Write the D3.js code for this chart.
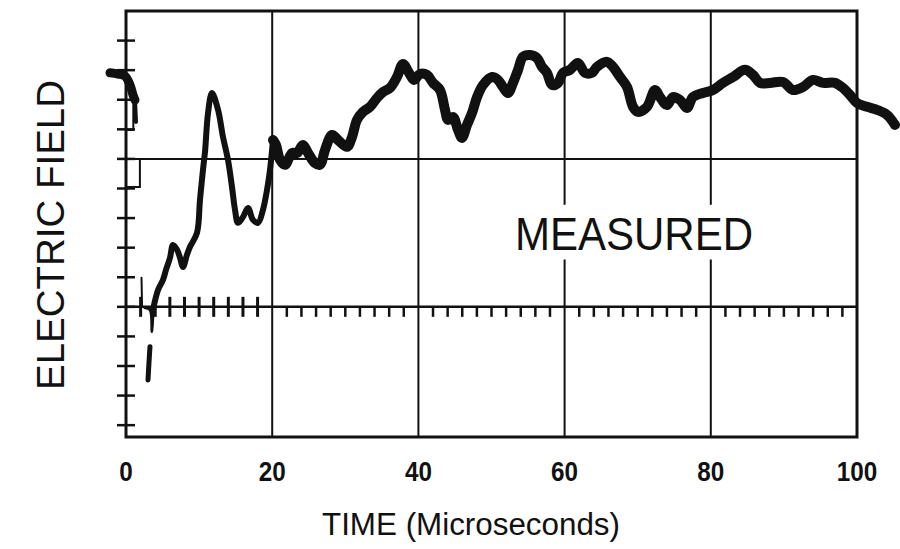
<!DOCTYPE html>
<html><head><meta charset="utf-8">
<script src="https://cdn.jsdelivr.net/npm/d3@7"></script>
<style>html,body{margin:0;padding:0;background:#fff;} svg{display:block}</style>
</head><body><svg id="c" width="900" height="549"></svg>
<script>
// ---- data ----
const xTickLabels = [0, 20, 40, 60, 80, 100];
const yMinorTicks = [-4, -3, -2, -1, 0, 1, 2, 3, 4, 5, 6, 7, 8, 9];
const zeroLineTicks = d3.range(2, 100, 2).filter(t => t % 20 !== 0);
const gridX = [20, 40, 60, 80];
const gridY = [0, 5];
const xTitle = "TIME (Microseconds)";
const yTitle = "ELECTRIC FIELD";
const annotation = "MEASURED";

// initial record before the step (time µs, field units)
const traceStart = [[-2.19,7.91],[-1.09,7.87],[-0.14,7.80],[0.55,7.50],[0.96,7.16],[1.23,6.99]];
const traceStartTail = [[1.23,6.99],[1.37,6.25]];
const spike = [[2.12,0.98],[2.2,0.0]];
const dipPiece = [[3.28,-1.35],[3.15,-1.86],[3.01,-2.47]];
const calibA = [[0,5.98],[1.0,5.98],[1.0,7.0]];
const calibB = [[1.9,5.0],[1.9,4.05],[0,4.05]];
const traceDip = [[2.6,-0.03],[3.3,-0.1],[3.56,-0.84],[3.69,-0.10]];
const traceEarly = [[3.69,-0.10],[4.38,0.57],[5.06,0.91],[5.47,1.25],[6.02,1.66],[6.43,2.09],[6.98,1.93],[7.39,1.66],[7.80,1.35],[8.34,1.76],[8.76,2.03],[9.71,2.50],[10.12,3.61],[10.53,4.63],[10.81,5.24],[11.22,6.55],[11.76,7.23],[12.59,6.66],[13.27,5.74],[13.95,4.97],[14.50,4.05],[14.91,3.28],[15.32,2.84],[16.01,3.04],[16.69,3.34],[17.37,2.94],[18.06,2.84],[18.74,3.28],[19.29,3.95],[19.70,4.63],[20.11,5.64]];
const traceMain = [[20.11,5.64],[20.52,5.47],[21.07,4.97],[21.75,4.80],[22.71,5.20],[23.39,5.20],[24.21,5.47],[24.90,5.20],[25.85,4.86],[26.54,4.80],[27.22,5.30],[28.18,5.81],[29.00,5.64],[30.23,5.41],[30.92,5.74],[31.60,6.32],[32.42,6.59],[33.38,6.76],[34.34,7.06],[35.16,7.26],[36.11,7.40],[37.07,7.77],[37.89,8.21],[38.72,7.91],[39.40,7.67],[40.22,7.87],[41.17,7.84],[42.00,7.57],[42.95,7.33],[43.64,6.66],[44.05,6.32],[44.73,6.42],[45.42,5.98],[45.96,5.71],[46.65,6.15],[47.33,6.55],[48.02,7.09],[48.84,7.50],[50.07,7.77],[50.89,7.67],[51.57,7.43],[52.26,7.23],[52.94,7.57],[53.63,8.01],[54.31,8.45],[55.27,8.51],[56.22,8.41],[56.91,8.11],[57.59,7.91],[58.28,7.50],[59.10,7.57],[59.78,7.91],[60.74,8.01],[61.83,8.24],[62.79,7.91],[63.75,7.91],[64.43,8.11],[65.80,8.28],[66.62,8.11],[67.58,7.77],[68.54,7.43],[69.36,6.76],[70.04,6.59],[71.27,6.76],[72.37,7.33],[73.05,7.09],[74.01,6.82],[74.83,7.09],[75.79,6.99],[76.74,6.72],[77.56,7.09],[78.93,7.23],[80.30,7.33],[81.67,7.57],[83.04,7.77],[84.68,8.01],[85.77,7.84],[86.73,7.57],[88.10,7.57],[89.88,7.60],[91.24,7.33],[92.61,7.43],[93.98,7.67],[95.35,7.57],[96.99,7.57],[98.08,7.40],[99.04,7.16],[100.00,6.89],[101.37,6.76],[102.74,6.66],[104.10,6.49],[105.20,6.15]];

// ---- drawing ----
const ink = "#111";
const svg = d3.select("#c");
svg.append("rect").attr("width",900).attr("height",549).attr("fill","#fff");
const x = d3.scaleLinear().domain([0,100]).range([126,857]);
const y = d3.scaleLinear().domain([-4.4,10]).range([437,11]);
const font = "'Liberation Sans', Arial, Helvetica, sans-serif";

// gridlines
svg.selectAll(".gx").data(gridX).join("line")
  .attr("x1",d=>x(d)).attr("x2",d=>x(d)).attr("y1",y(10)).attr("y2",y(-4.4))
  .attr("stroke",ink).attr("stroke-width",2);
svg.selectAll(".gy").data(gridY).join("line")
  .attr("x1",x(0)).attr("x2",x(100)).attr("y1",d=>y(d)).attr("y2",d=>y(d))
  .attr("stroke",ink).attr("stroke-width",d=>d===0?2.5:2);

// frame
svg.append("rect").attr("x",x(0)).attr("y",y(10)).attr("width",x(100)-x(0)).attr("height",y(-4.4)-y(10))
  .attr("fill","none").attr("stroke",ink).attr("stroke-width",3);

// left axis crossing ticks
svg.selectAll(".ly").data(yMinorTicks).join("line")
  .attr("x1",x(0)-9).attr("x2",x(0)+9).attr("y1",d=>y(d)).attr("y2",d=>y(d))
  .attr("stroke",ink).attr("stroke-width",2.5);
// zero line ticks
svg.selectAll(".zt").data(zeroLineTicks).join("line")
  .attr("x1",d=>x(d)).attr("x2",d=>x(d))
  .attr("y1",d=> d<20 ? y(0)-10 : y(0)).attr("y2",y(0)+10)
  .attr("stroke",ink).attr("stroke-width",d=> d<20 ? 3 : 2.5);

// annotation with white backing that breaks the gridlines
svg.append("rect").attr("x",x(52)).attr("y",y(3.45)).attr("width",x(87)-x(52)).attr("height",y(1.6)-y(3.45)).attr("fill","#fff");
svg.append("text").attr("x",515).attr("y",y(1.92)).text(annotation)
  .attr("font-family",font).attr("font-size",46).attr("fill",ink)
  .attr("textLength",238).attr("lengthAdjust","spacingAndGlyphs");

// calibration steps
const line = d3.line().x(d=>x(d[0])).y(d=>y(d[1]));
[calibA, calibB].forEach(p => svg.append("path").attr("d",line(p)).attr("fill","none").attr("stroke",ink).attr("stroke-width",2));

// traces
const smooth = d3.line().x(d=>x(d[0])).y(d=>y(d[1])).curve(d3.curveCatmullRom.alpha(0.5));
function tr(p, w){ svg.append("path").attr("d",smooth(p)).attr("fill","none").attr("stroke",ink)
  .attr("stroke-width",w).attr("stroke-linejoin","round").attr("stroke-linecap","round"); }
tr(traceStart, 9);
tr(traceStartTail, 4);
tr(spike, 2);
tr(traceDip, 3);
tr(dipPiece, 5);
tr(traceEarly, 6);
tr(traceMain, 10);

// tick labels (condensed bold look)
svg.selectAll(".xl").data(xTickLabels).join("text")
  .attr("x",d=>x(d)).attr("y",481).attr("text-anchor","middle")
  .attr("font-family",font).attr("font-weight","bold").attr("font-size",28).attr("fill",ink)
  .attr("textLength",d=>String(d).length*13.5).attr("lengthAdjust","spacingAndGlyphs")
  .text(d=>d);

// axis titles
svg.append("text").attr("x",471).attr("y",535).attr("text-anchor","middle")
  .attr("font-family",font).attr("font-size",31).attr("fill",ink)
  .attr("textLength",298).attr("lengthAdjust","spacingAndGlyphs").text(xTitle);
svg.append("text").attr("transform","translate(64,235) rotate(-90)").attr("text-anchor","middle")
  .attr("font-family",font).attr("font-size",39).attr("fill",ink)
  .attr("textLength",310).attr("lengthAdjust","spacingAndGlyphs").text(yTitle);
</script></body></html>
